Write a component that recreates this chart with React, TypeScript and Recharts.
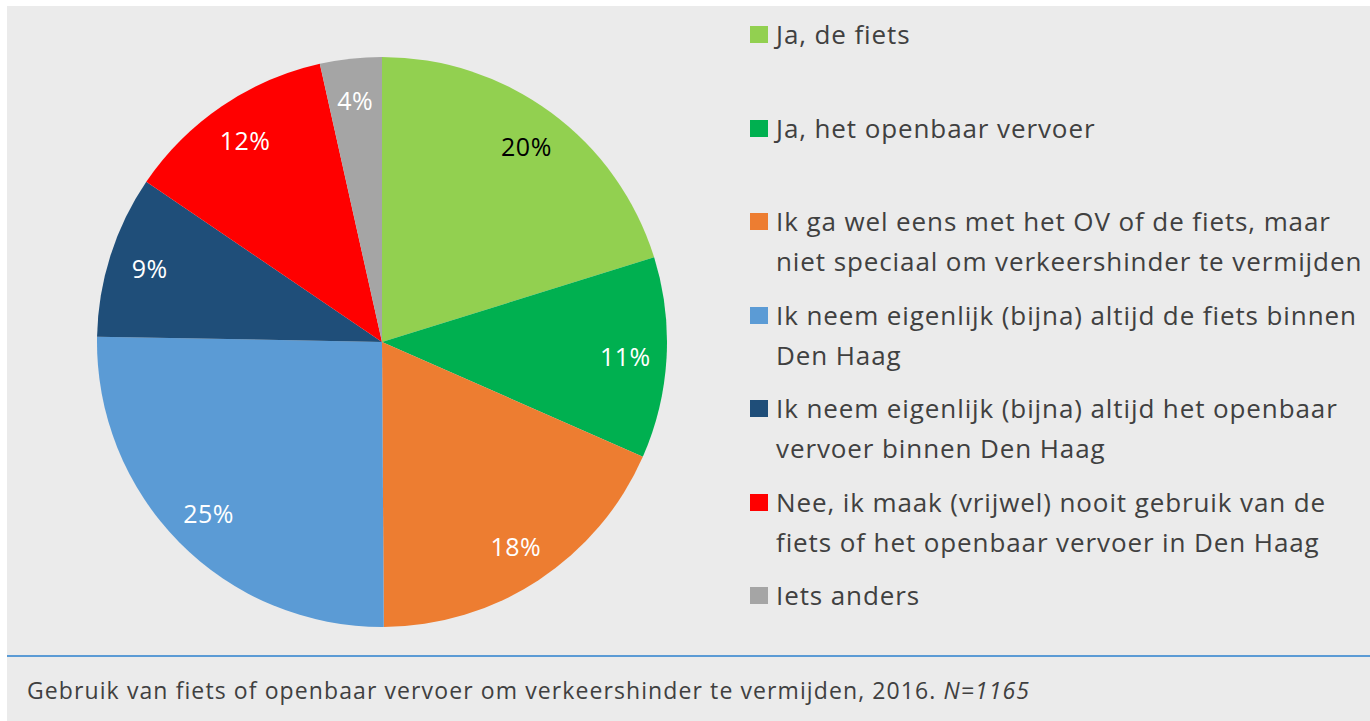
import React from 'react';
import { PieChart, Pie, Cell, Legend } from 'recharts';

const categories = [
  'Ja, de fiets',
  'Ja, het openbaar vervoer',
  'Ik ga wel eens met het OV of de fiets, maar niet speciaal om verkeershinder te vermijden',
  'Ik neem eigenlijk (bijna) altijd de fiets binnen Den Haag',
  'Ik neem eigenlijk (bijna) altijd het openbaar vervoer binnen Den Haag',
  'Nee, ik maak (vrijwel) nooit gebruik van de fiets of het openbaar vervoer in Den Haag',
  'Iets anders',
];
const legendLines = [
  ['Ja, de fiets'],
  ['Ja, het openbaar vervoer'],
  ['Ik ga wel eens met het OV of de fiets, maar', 'niet speciaal om verkeershinder te vermijden'],
  ['Ik neem eigenlijk (bijna) altijd de fiets binnen', 'Den Haag'],
  ['Ik neem eigenlijk (bijna) altijd het openbaar', 'vervoer binnen Den Haag'],
  ['Nee, ik maak (vrijwel) nooit gebruik van de', 'fiets of het openbaar vervoer in Den Haag'],
  ['Iets anders'],
];
const values = [20.2, 11.4, 18.3, 25.4, 9.2, 12.0, 3.5];
const labels = ['20%', '11%', '18%', '25%', '9%', '12%', '4%'];
const colors = ['#92d050', '#00b050', '#ed7d31', '#5b9bd5', '#1f4e79', '#ff0000', '#a5a5a5'];
const labelColors = ['#000000', '#ffffff', '#ffffff', '#ffffff', '#ffffff', '#ffffff', '#ffffff'];

const data = categories.map((name, i) => ({ name, value: values[i], label: labels[i] }));

const FONT = "'Open Sans', 'Noto Sans', sans-serif";
const RAD = Math.PI / 180;

const renderLabel = (props: any) => {
  const { cx, cy, midAngle, outerRadius, index } = props;
  const r = outerRadius * 0.855;
  const x = cx + r * Math.cos(-midAngle * RAD);
  const y = cy + r * Math.sin(-midAngle * RAD);
  return (
    <text x={x} y={y} fill={labelColors[index]} textAnchor="middle" dominantBaseline="central"
      fontSize={25} fontFamily={FONT} letterSpacing={0.5}>
      {labels[index]}
    </text>
  );
};

const LegendContent = () => (
  <div style={{ fontFamily: FONT, color: '#404040', fontSize: 26, letterSpacing: 0.9 }}>
    {legendLines.map((lines, i) => (
      <div key={i} style={{ position: 'absolute', left: 0, top: i * 93.5, whiteSpace: 'nowrap' }}>
        <div style={{ position: 'absolute', left: 0, top: 12, width: 18, height: 17, background: colors[i] }} />
        <div style={{ position: 'absolute', left: 26, top: 0, lineHeight: '40px' }}>
          {lines.map((l, j) => (<div key={j}>{l}</div>))}
        </div>
      </div>
    ))}
  </div>
);

export default function App() {
  return (
    <div style={{ position: 'absolute', left: 7, top: 6, width: 1363, height: 715, background: '#ebebeb' }}>
      <PieChart width={1363} height={650}>
        <Pie data={data} dataKey="value" nameKey="name" cx={370} cy={331} outerRadius={285}
          startAngle={90} endAngle={-270} stroke="none" isAnimationActive={false}
          label={renderLabel} labelLine={false}>
          {data.map((d, i) => (<Cell key={i} fill={colors[i]} />))}
        </Pie>
        <Legend content={<LegendContent />}
          wrapperStyle={{ position: 'absolute', left: 743, top: 8, width: 620, height: 640 }} />
      </PieChart>
      <div style={{ position: 'absolute', left: 0, top: 649, width: 1363, height: 2, background: '#5b9bd5' }} />
      <div style={{ position: 'absolute', left: 20, top: 669, lineHeight: '30px', fontFamily: FONT, fontSize: 23, letterSpacing: 1.1, color: '#404040', whiteSpace: 'nowrap' }}>
        Gebruik van fiets of openbaar vervoer om verkeershinder te vermijden, 2016. <i>N=1165</i>
      </div>
    </div>
  );
}
